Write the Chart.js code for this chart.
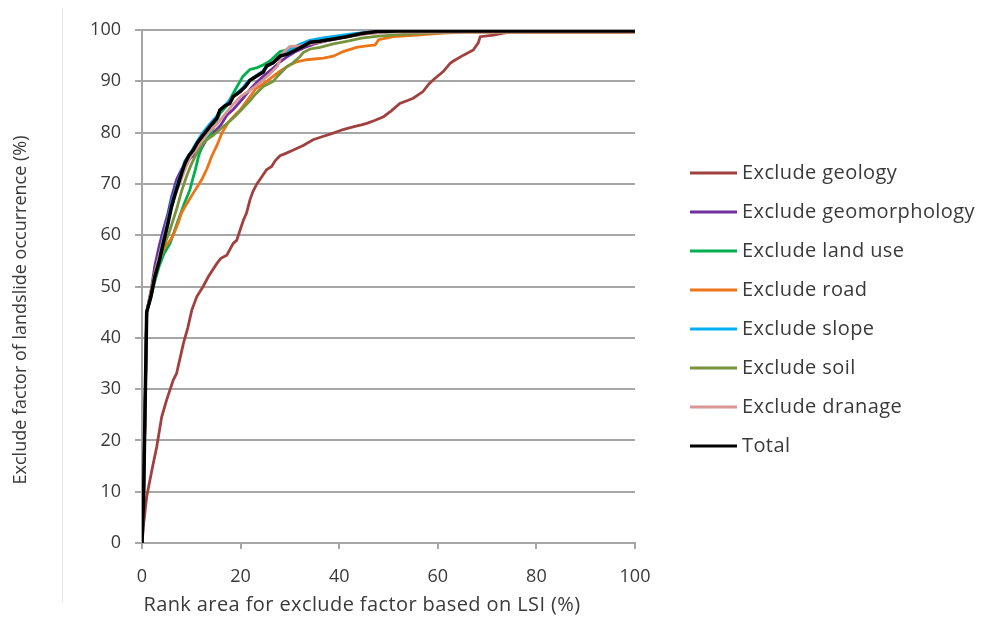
<!DOCTYPE html>
<html>
<head>
<meta charset="utf-8">
<script src="https://cdn.jsdelivr.net/npm/chart.js@4.4.1/dist/chart.umd.min.js"></script>
<style>
  html, body { margin: 0; padding: 0; background: #fff; }
  #wrap { width: 982px; height: 617px; }
</style>
</head>
<body>
<div id="wrap"><canvas id="lsi"></canvas></div>
<script>
// [rank area %, landslide occurrence %]
const exclGeology = [[0,0],[0.27,3.2],[0.95,9],[2,14.2],[3,18.8],[4,24.6],[5,27.9],[6.35,31.8],[7,33],[8.4,38.9],[9.3,42],[10.1,45.4],[11.1,48],[12.4,50],[13.5,52],[15.2,54.5],[16,55.5],[17.2,56.1],[18.5,58.4],[19.2,59],[19.9,61],[20.6,63],[21.2,64.3],[21.9,66.9],[22.5,68.5],[23.3,70],[24.3,71.4],[25.3,72.8],[26.3,73.4],[27,74.5],[28,75.5],[29.3,76],[30.7,76.6],[32.7,77.5],[34.7,78.6],[36.5,79.2],[38.8,79.9],[40.8,80.6],[42.8,81.1],[44.5,81.5],[45.6,81.8],[47.3,82.4],[49,83.1],[50.5,84.2],[52.3,85.7],[54,86.3],[55,86.7],[57,88],[58.2,89.5],[59.1,90.3],[61.1,91.9],[62.5,93.5],[63.1,93.9],[65.2,95.1],[67.2,96.1],[68.2,97.5],[68.6,98.7],[71.3,99],[73.3,99.4],[75,99.6],[100,99.6]];
const exclGeomorph = [[0,0],[0.3,8],[0.6,25],[0.95,45],[1.8,49],[2.6,54],[3.5,58],[4.3,61],[5.2,64],[6,67.5],[7,70.8],[8,72.8],[9,74.2],[10,75.2],[11.8,76.5],[13,78.5],[14.5,80],[16,81.5],[17.2,83.4],[18.5,84.5],[20.5,86.7],[22,88.5],[23.5,90],[25,91.3],[26.5,92.5],[28,93.8],[29.5,94.8],[31,95.7],[33,96.6],[35,97.3],[38,98],[41,98.6],[44,99.1],[47,99.5],[50,99.7],[100,99.7]];
const exclLandUse = [[0,0],[0.3,8],[0.6,25],[0.95,45],[1.8,48],[2.6,51],[3.5,54],[4.5,56.5],[5.7,58.4],[7,62],[8.5,66],[9.7,68.8],[10.3,71],[10.8,72.7],[11.5,75.5],[12.4,77.9],[13.8,79.5],[15,82],[15.8,83.7],[17,85],[17.8,86.4],[19,88.5],[20.5,91],[21.9,92.3],[23.2,92.6],[24.6,93.2],[26,94],[28,95.8],[30,96.3],[32,96.8],[35,97.6],[38,98.3],[41,98.8],[44,99.2],[48,99.5],[52,99.7],[100,99.7]];
const exclRoad = [[0,0],[0.3,8],[0.6,25],[0.95,45],[1.8,49],[2.6,52.5],[3.5,55],[4.5,57.5],[5.7,59],[6.35,60],[7.4,62.5],[8,64.3],[9,66],[10.4,68.2],[12.1,70.8],[13.2,73],[14.1,75.3],[15.2,77.5],[16.2,79.9],[17.5,82],[19,83.6],[19.9,84.4],[21.9,87],[23,88.5],[25.3,90],[27.3,91.5],[28,92],[30,93.2],[31.4,93.8],[33.4,94.2],[36.8,94.5],[38.8,94.9],[40.8,95.8],[43.5,96.6],[45.6,96.9],[47.3,97.1],[48,98.1],[51,98.7],[55.7,99],[61.1,99.4],[66,99.6],[100,99.6]];
const exclSlope = [[0,0],[0.3,8],[0.6,25],[0.95,45],[1.8,48.5],[2.6,52.5],[3.5,56],[4.3,59.5],[5.2,63],[6,66.5],[7,69.5],[8,72.5],[8.7,74.5],[9.8,76],[11,78],[12.2,79.8],[13.6,81.5],[15,83],[16,84.5],[17.5,86],[19,87.5],[20.5,88.8],[21.5,90],[23,91],[24.5,92],[25.5,93],[27,94],[28.5,95.5],[30,96.2],[32,97.2],[34,98],[37,98.5],[40,98.9],[43,99.3],[46,99.6],[50,99.7],[100,99.7]];
const exclSoil = [[0,0],[0.3,8],[0.6,25],[0.95,45],[1.8,48.5],[2.6,52],[3.5,55],[4.3,57.5],[5.5,60.5],[7,65],[8,68.5],[9,71.4],[10,73.8],[11.1,76],[12,77.5],[13.1,78.6],[14.5,79.5],[16,80.8],[17.8,82.2],[19,83.3],[20.5,84.8],[21.9,86.2],[23,87.5],[24.6,89],[26.6,90],[27.5,91],[29.3,92.8],[30.5,93.5],[32,94.8],[32.7,95.6],[34.1,96.3],[36.1,96.6],[38.8,97.3],[41.5,97.8],[44.5,98.4],[48,98.8],[52.3,99.1],[58,99.4],[65,99.6],[100,99.6]];
const exclDrainage = [[0,0],[0.3,8],[0.6,25],[0.95,45],[1.8,48.5],[2.6,52.5],[3.5,56],[4.3,59],[5.2,62.5],[6,65.5],[7,68.5],[8,71],[9,73.5],[10,75.5],[11.5,77.5],[12.5,79],[14,80.5],[15.5,82],[17,83.8],[18.5,85.5],[20,87],[21.5,88],[23,89],[24.5,90.2],[26,91.5],[27.5,93],[28.5,95.5],[30,96.8],[32,96.9],[34,97.3],[37,97.8],[40,98.4],[43,98.9],[46,99.3],[50,99.6],[100,99.6]];
const total = [[0,0],[0.3,8],[0.6,25],[0.95,45],[1.8,48],[2.6,51.9],[3.5,55],[4.3,58.4],[5.2,62],[6,65.6],[6.7,68],[7.4,70.1],[8,72],[8.7,74],[9.5,75.5],[10.4,76.6],[11.2,78],[12.4,79.5],[13.8,81.2],[15.2,82.8],[15.8,84.4],[16.8,85.2],[17.8,85.7],[18.5,87],[19.9,88],[21,89],[21.9,90.2],[23.2,91],[24.6,91.8],[25.3,93],[26.6,93.6],[28,94.9],[29.5,95.3],[31.4,96.2],[33,97],[34.1,97.6],[36,97.8],[38.5,98.2],[41.5,98.7],[44.5,99.3],[47.6,99.7],[52,99.8],[100,99.8]];

const seriesNames = ['Exclude geology', 'Exclude geomorphology', 'Exclude land use', 'Exclude road', 'Exclude slope', 'Exclude soil', 'Exclude dranage', 'Total'];
const seriesData = [exclGeology, exclGeomorph, exclLandUse, exclRoad, exclSlope, exclSoil, exclDrainage, total];
const seriesColors = ['#a0413f', '#7030a0', '#00b050', '#ee7418', '#00b0f0', '#77933c', '#d99694', '#000000'];

const xTicks = [0, 20, 40, 60, 80, 100];
const yTicks = [0, 10, 20, 30, 40, 50, 60, 70, 80, 90, 100];

const FONT = '"Open Sans", sans-serif';
const TEXT = '#3a3a3a';
const GRID = '#a6a6a6';

// legend + axis titles drawn by hand, Excel style
const extras = {
  id: 'extras',
  afterDraw(chart) {
    const ctx = chart.ctx;
    const area = chart.chartArea;
    ctx.save();
    ctx.strokeStyle = '#e6e6e6';
    ctx.lineWidth = 1;
    ctx.beginPath();
    ctx.moveTo(62.5, 8);
    ctx.lineTo(62.5, 602);
    ctx.stroke();

    ctx.fillStyle = TEXT;
    ctx.textBaseline = 'middle';

    // y title
    ctx.save();
    ctx.font = '18px ' + FONT;
    ctx.textAlign = 'center';
    ctx.translate(21, area.top + 280);
    ctx.rotate(-Math.PI / 2);
    ctx.fillText('Exclude factor of landslide occurrence (%)', 0, 0);
    ctx.restore();

    ctx.font = '20px ' + FONT;
    ctx.letterSpacing = '0.4px';
    ctx.textAlign = 'center';
    ctx.fillText('Rank area for exclude factor based on LSI (%)', area.left + 220, 605);

    ctx.textAlign = 'left';
    seriesNames.forEach((name, i) => {
      const y = 173 + i * 39;
      ctx.strokeStyle = seriesColors[i];
      ctx.lineWidth = 3;
      ctx.beginPath();
      ctx.moveTo(690, y);
      ctx.lineTo(737, y);
      ctx.stroke();
      ctx.fillStyle = TEXT;
      ctx.fillText(name, 742, y);
    });
    ctx.restore();
  }
};

new Chart(document.getElementById('lsi').getContext('2d'), {
  type: 'line',
  data: {
    datasets: seriesData.map((pts, i) => ({
      label: seriesNames[i],
      data: pts.map(p => ({ x: p[0], y: p[1] })),
      borderColor: seriesColors[i],
      backgroundColor: seriesColors[i],
      borderWidth: i === 7 ? 3.5 : 2.8,
      pointRadius: 0,
      tension: 0,
      order: seriesData.length - i
    }))
  },
  options: {
    responsive: true,
    maintainAspectRatio: false,
    animation: false,
    layout: { padding: { left: 62, right: 347, top: 30, bottom: 34 } },
    plugins: { legend: { display: false }, tooltip: { enabled: false } },
    scales: {
      x: {
        type: 'linear',
        min: 0,
        max: 100,
        afterBuildTicks: s => { s.ticks = xTicks.map(v => ({ value: v })); },
        afterFit: s => { s.height = 40; },
        grid: { drawOnChartArea: false, color: GRID, lineWidth: 2, tickLength: 6 },
        border: { color: GRID, width: 2 },
        ticks: { color: TEXT, font: { family: FONT, size: 18 }, padding: 17, maxRotation: 0 }
      },
      y: {
        min: 0,
        max: 100,
        afterBuildTicks: s => { s.ticks = yTicks.map(v => ({ value: v })); },
        afterFit: s => { s.width = 80; },
        grid: { color: GRID, lineWidth: 2, tickLength: 7 },
        border: { color: GRID, width: 2 },
        ticks: { color: TEXT, font: { family: FONT, size: 18 }, padding: 14 }
      }
    }
  },
  plugins: [extras]
});
</script>
</body>
</html>
